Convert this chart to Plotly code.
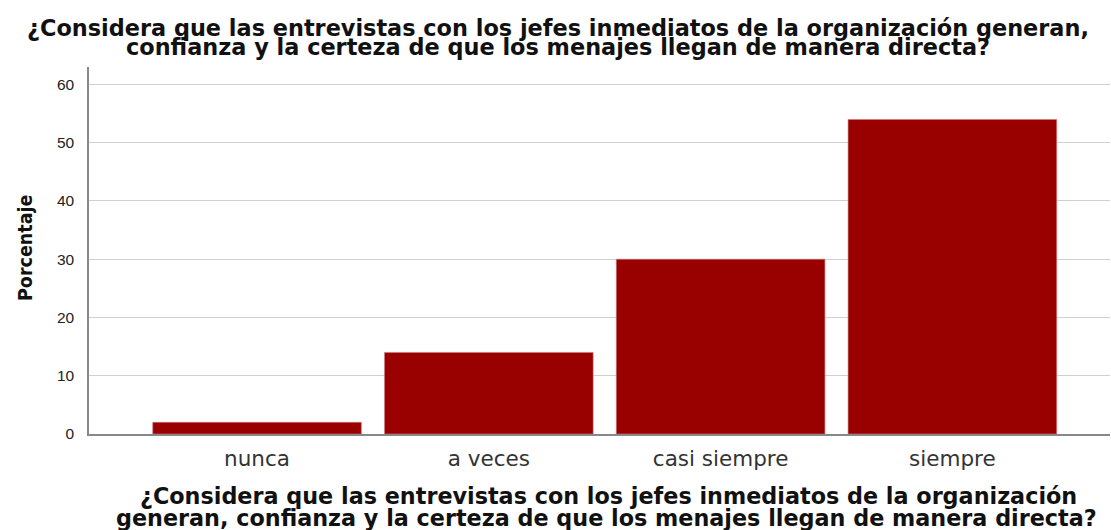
import plotly.graph_objects as go

categorias = ["nunca", "a veces", "casi siempre", "siempre"]
porcentajes = [2, 14, 30, 54]
ticks_y = [0, 10, 20, 30, 40, 50, 60]

titulo = [
    "¿Considera que las entrevistas con los jefes inmediatos de la organización generan,",
    "confianza y la certeza de que los menajes llegan de manera directa?",
]
titulo_x = [
    "¿Considera que las entrevistas con los jefes inmediatos de la organización",
    "generan, confianza y la certeza de que los menajes llegan de manera directa?",
]

W, H = 1111, 530
L, R, T, B = 89, 1, 67, 96
PW = W - L - R


def px_x(x):
    return (x - L) / PW


fig = go.Figure(go.Bar(
    x=list(range(len(categorias))),
    y=porcentajes,
    width=0.9,
    marker=dict(color="#990000", line=dict(color="#c77", width=0.6)),
))

fig.update_layout(
    width=W, height=H,
    margin=dict(l=L, r=R, t=T, b=B),
    plot_bgcolor="white", paper_bgcolor="white",
    showlegend=False,
)

fig.update_xaxes(
    range=[-0.725, 3.68],
    tickmode="array", tickvals=list(range(len(categorias))), ticktext=categorias,
    tickfont=dict(family="DejaVu Sans", size=21.5, color="#333333"),
    ticks="", showgrid=False, zeroline=False,
    showline=True, linecolor="#888888", linewidth=1.5,
    ticklabelstandoff=4,
)

fig.update_yaxes(
    range=[0, 63],
    tickmode="array", tickvals=ticks_y,
    tickfont=dict(family="Liberation Sans", size=15.5, color="#222222"),
    ticks="", showgrid=True, gridcolor="#d0d0d0", gridwidth=1.2,
    zeroline=False,
    showline=True, linecolor="#888888", linewidth=1.5,
    ticklabelstandoff=10,
)

# chart title, one annotation per line for tight line spacing
for linea, cx, cy in zip(titulo, (558, 558), (28, 47)):
    fig.add_annotation(
        text="<b>" + linea + "</b>", xref="paper", yref="paper",
        x=px_x(cx), y=1, yshift=T - cy, borderpad=0,
        xanchor="center", yanchor="middle", showarrow=False,
        font=dict(family="DejaVu Sans", size=22.4, color="#111111"),
    )

# y-axis title
fig.add_annotation(
    text="<b>Porcentaje</b>", xref="paper", yref="paper",
    x=px_x(25), y=1, yshift=T - 248, textangle=-90,
    xanchor="center", yanchor="middle", showarrow=False,
    font=dict(family="DejaVu Sans Condensed", size=19.5, color="#111111"),
)

# x-axis title
for linea, cx, cy in zip(titulo_x, (608, 606), (496, 518)):
    fig.add_annotation(
        text="<b>" + linea + "</b>", xref="paper", yref="paper",
        x=px_x(cx), y=0, yshift=(H - B) - cy, borderpad=0,
        xanchor="center", yanchor="middle", showarrow=False,
        font=dict(family="DejaVu Sans", size=22.3, color="#111111"),
    )

fig.write_html("out.html")
